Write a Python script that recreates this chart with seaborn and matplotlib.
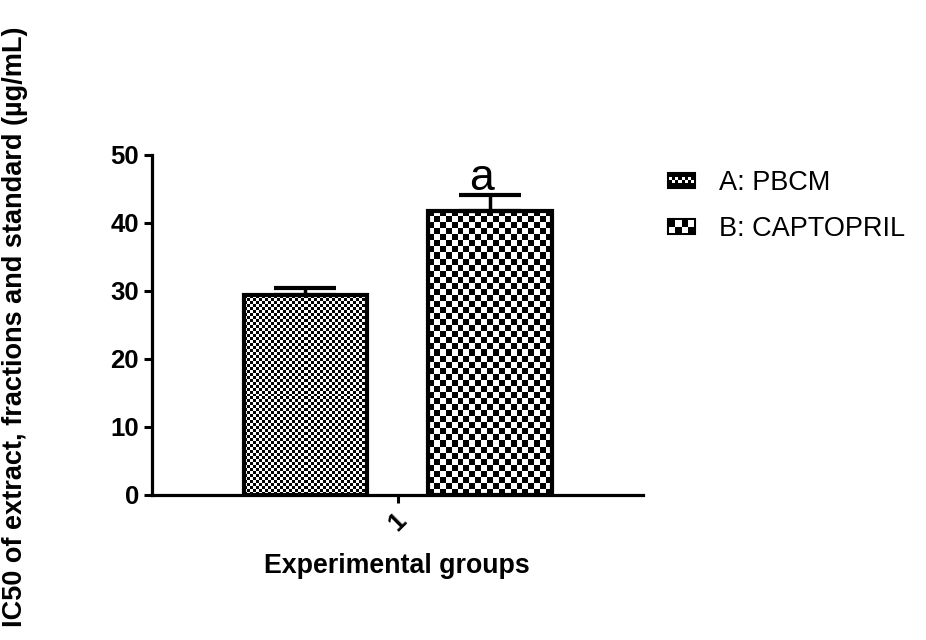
import numpy as np
import pandas as pd
import matplotlib
matplotlib.use("Agg")
import matplotlib.pyplot as plt
from matplotlib.patches import Rectangle
from matplotlib.legend_handler import HandlerPatch
import seaborn as sns

# Data
groups = ["1"]
series = ["A: PBCM", "B: CAPTOPRIL"]
means = [29.4, 41.8]
errors = [1.1, 2.3]
annotations = ["", "a"]

df = pd.DataFrame({
    "group": [groups[0]] * len(series),
    "series": series,
    "value": means,
})

sns.set_theme(style="ticks")
plt.rcParams["font.family"] = ["Liberation Sans", "DejaVu Sans"]
plt.rcParams["text.color"] = "black"

W, H, DPI = 926, 640, 100
fig = plt.figure(figsize=(W / DPI, H / DPI), dpi=DPI)
ax = fig.add_axes([152 / W, 1 - 495 / H, (643 - 152) / W, (495 - 155) / H])

sns.barplot(data=df, x="group", y="value", hue="series", hue_order=series,
            gap=0.33, errorbar=None, legend=False, ax=ax,
            palette=["white", "white"], edgecolor="black", linewidth=3)

ax.set_ylim(0, 50)
ax.set_xlim(-0.532, 0.53)
ax.set_yticks([0, 10, 20, 30, 40, 50])

# checker cell size in pixels per series
cell_px = [3, 6]


def checker(nx, ny, offset=0):
    yy, xx = np.mgrid[0:ny, 0:nx]
    return ((xx + yy + offset) % 2).astype(float)


fig.canvas.draw()
bars = [p for p in ax.patches if isinstance(p, Rectangle)][:len(series)]
for bar, c, m, e, txt in zip(bars, cell_px, means, errors, annotations):
    bar.set_facecolor("none")
    bar.set_zorder(3)
    x0, y0 = bar.get_x(), bar.get_y()
    w, h = bar.get_width(), bar.get_height()
    p0 = ax.transData.transform((x0, y0))
    p1 = ax.transData.transform((x0 + w, y0 + h))
    nx = max(1, int(round((p1[0] - p0[0]) / c)))
    ny = max(1, int(round((p1[1] - p0[1]) / c)))
    img = ax.imshow(checker(nx, ny), cmap="gray", vmin=0, vmax=1,
                    extent=[x0, x0 + w, y0, y0 + h], origin="lower",
                    interpolation="nearest", aspect="auto", zorder=2)
    img.set_clip_path(bar)
    xc = x0 + w / 2
    ax.errorbar([xc], [m], yerr=[[0], [e]], fmt="none", ecolor="black",
                elinewidth=2.5, capsize=22, capthick=3, zorder=4)
    if txt:
        ax.text(xc - 0.02, m + e + 0.7, txt, ha="center", va="baseline",
                fontsize=32, color="black")

ax.set_xlim(-0.532, 0.53)
ax.set_ylim(0, 50)

# axes styling
sns.despine(ax=ax)
for s in ["left", "bottom"]:
    ax.spines[s].set_linewidth(2.3)
    ax.spines[s].set_color("black")
ax.tick_params(axis="both", direction="out", length=6, width=2.2,
               colors="black", labelsize=18.5)
for lab in ax.get_yticklabels():
    lab.set_fontweight("bold")
ax.set_xticks([0])
ax.set_xticklabels(groups, rotation=45, fontweight="bold", fontsize=18.5,
                   ha="center", va="top")

ax.set_xlabel("Experimental groups", fontsize=19.3, fontweight="bold",
              color="black")
ax.xaxis.set_label_coords(0.499, -0.171)
ax.set_ylabel("IC50 of extract, fractions and standard (µg/mL)",
              fontsize=19.5, fontweight="bold", color="black")
ax.yaxis.set_label_coords(-0.252, 0.494)


# legend with checker swatches
class CheckerHandler(HandlerPatch):
    def __init__(self, cell, **kw):
        super().__init__(**kw)
        self.cell = cell

    def create_artists(self, legend, orig_handle, xdescent, ydescent,
                       width, height, fontsize, trans):
        arts = [Rectangle((-xdescent, -ydescent), width, height,
                          facecolor="black", edgecolor="black", lw=1.5,
                          transform=trans)]
        c = self.cell
        nx = int(width // c)
        ny = int(height // c)
        pad_x = (width - nx * c) / 2
        pad_y = (height - ny * c) / 2
        for i in range(nx):
            for j in range(ny):
                if (i + j) % 2 == 0 and 0 < j < ny - 1 or (ny <= 2 and (i + j) % 2 == 0):
                    arts.append(Rectangle(
                        (-xdescent + pad_x + i * c, -ydescent + pad_y + j * c),
                        c, c, facecolor="white", edgecolor="none",
                        transform=trans))
        return arts


handles = [Rectangle((0, 0), 1, 1, facecolor="black") for _ in series]
h_a, h_b = handles
leg = fig.legend(handles, series, loc="upper left",
                 bbox_to_anchor=(668 / W, 1 - 170 / H), frameon=False,
                 fontsize=19.5, handlelength=1.0, handleheight=0.45,
                 labelspacing=0.75, handletextpad=0.9,
                 borderpad=0, borderaxespad=0,
                 handler_map={h_a: CheckerHandler(2.2),
                              h_b: CheckerHandler(4.5)})
for t in leg.get_texts():
    t.set_color("black")

fig.savefig("out.png", dpi=DPI)
